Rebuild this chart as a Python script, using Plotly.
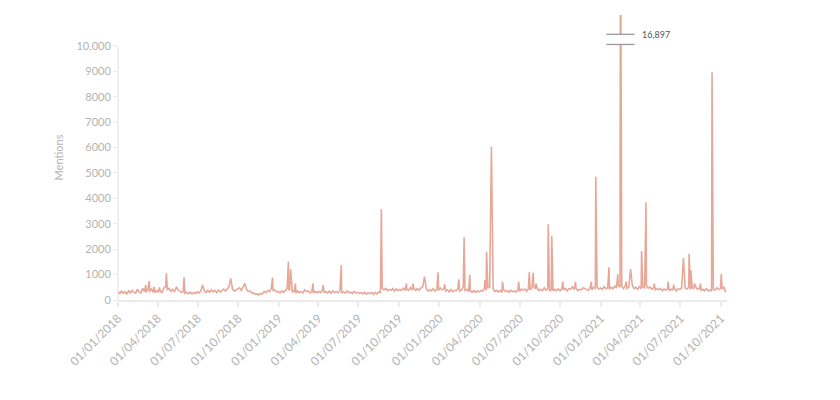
import pandas as pd
import plotly.graph_objects as go

# ---- data ----
START_DATE = "2018-01-01"
STEP_DAYS = 4
BASELINE = [
    # 2018 Q1
    330, 250, 350, 270, 320, 240, 360, 280, 380, 300, 270, 420, 310, 280, 460, 330, 300, 430, 320, 450, 300, 280, 380,
    # 2018 Q2
    300, 370, 280, 480, 520, 380, 460, 340, 420, 320, 480, 400, 340, 300, 330, 260, 300, 250, 310, 240, 300, 260, 320,
    # 2018 Q3
    270, 350, 300, 370, 290, 380, 300, 400, 320, 380, 290, 390, 310, 380, 430, 350, 460, 520, 400, 440, 350, 400, 460,
    # 2018 Q4
    480, 380, 520, 400, 420, 330, 360, 270, 280, 220, 240, 200, 260, 240, 330, 290, 380, 330, 450, 380, 400, 310, 340,
    # 2019 Q1
    280, 360, 300, 400, 450, 380, 420, 320, 340, 270, 360, 290, 330, 280, 400, 330, 360, 280, 320, 270, 340, 280, 340,
    # 2019 Q2
    290, 390, 310, 330, 280, 350, 270, 360, 300, 330, 280, 380, 290, 320, 270, 360, 290, 310, 260, 340, 270, 300, 260,
    # 2019 Q3
    290, 240, 300, 230, 290, 250, 300, 220, 300, 240, 320, 300, 460, 400, 460, 370, 420, 380, 450, 350, 440, 370, 420,
    # 2019 Q4
    380, 470, 370, 420, 380, 490, 390, 440, 380, 450, 380, 480, 520, 410, 450, 350, 400, 360, 450, 350, 400, 380, 470,
    # 2020 Q1
    400, 440, 350, 400, 320, 410, 330, 380, 360, 450, 350, 390, 500, 380, 420, 330, 360, 300, 370, 290, 360, 320, 370,
    # 2020 Q2
    350, 450, 370, 480, 500, 390, 420, 330, 380, 320, 370, 300, 390, 340, 370, 300, 390, 320, 360, 310, 400, 330, 430,
    # 2020 Q3
    390, 430, 340, 440, 390, 480, 520, 440, 460, 370, 420, 360, 480, 380, 450, 350, 400, 360, 420, 370, 440, 360, 440,
    # 2020 Q4
    400, 460, 360, 450, 430, 520, 410, 460, 370, 420, 390, 480, 450, 400, 380, 470, 400, 490, 460, 520, 430, 470, 420,
    # 2021 Q1
    530, 440, 480, 420, 500, 440, 540, 470, 580, 500, 540, 450, 550, 450, 500, 460, 570, 450, 500, 420, 530, 440, 510,
    # 2021 Q2
    480, 580, 470, 510, 420, 480, 400, 450, 400, 460, 360, 430, 390, 440, 360, 430, 400, 450, 360, 440, 420, 480, 390,
    # 2021 Q3
    470, 430, 500, 400, 480, 460, 520, 420, 450, 380, 420, 360, 450, 360, 400, 350, 430, 390, 480, 410, 450, 430, 500,
    # end
    300,
]

SPIKE_DATES = [
    "2018-03-05", "2018-03-13", "2018-03-24", "2018-04-05", "2018-04-21", "2018-05-14", "2018-05-31",
    "2018-07-12", "2018-09-14", "2018-10-16", "2018-12-18",
    "2019-01-23", "2019-01-26", "2019-01-28", "2019-02-08", "2019-03-20", "2019-04-12", "2019-05-23", "2019-08-22",
    "2019-10-18", "2019-11-02", "2019-11-28", "2019-12-29",
    "2020-01-13", "2020-02-14", "2020-02-26", "2020-03-10", "2020-04-13", "2020-04-17", "2020-04-28",
    "2020-05-23", "2020-06-29", "2020-07-23", "2020-08-01", "2020-08-07", "2020-09-04", "2020-09-12",
    "2020-10-07", "2020-11-05", "2020-12-11", "2020-12-21",
    "2021-01-20", "2021-02-09", "2021-02-15", "2021-02-28", "2021-03-10", "2021-04-04", "2021-04-14",
    "2021-05-03", "2021-06-03", "2021-06-16", "2021-07-08", "2021-07-21", "2021-07-25", "2021-08-02",
    "2021-08-16", "2021-09-11", "2021-10-02",
]
SPIKE_VALUES = [
    590, 750, 520, 500, 1050, 520, 890,
    590, 850, 650, 880,
    1510, 420, 1210, 650, 650, 590, 1380, 3570,
    650, 640, 920, 1090,
    620, 810, 2470, 980, 790, 1900, 6035,
    720, 720, 1115, 1075, 650, 2980, 2520,
    720, 720, 720, 4855,
    1290, 1010, 16897, 720, 1220, 1930, 3846,
    650, 720, 600, 1665, 1820, 1180, 650,
    650, 8965, 1020,
]

Y_TICKS = [0, 1000, 2000, 3000, 4000, 5000, 6000, 7000, 8000, 9000, 10000]
Y_TICK_TEXT = ["0", "1000", "2000", "3000", "4000", "5000", "6000", "7000", "8000", "9000", "10,000"]
Y_TITLE = "Mentions"
BREAK_LABEL = "16,897"

# ---- build series ----
base_dates = pd.date_range(START_DATE, periods=len(BASELINE), freq=f"{STEP_DAYS}D")
s_base = pd.Series(BASELINE, index=base_dates, dtype=float)
s_spk = pd.Series(SPIKE_VALUES, index=pd.to_datetime(SPIKE_DATES), dtype=float)
s_base = s_base[~s_base.index.isin(s_spk.index)]
series = pd.concat([s_base, s_spk]).sort_index()

peak_date = s_spk.idxmax()

LINE = "#e8a898"
GREY = "#b3b3b3"
AXIS = "#ebebeb"
FONT = "Lato"

fig = go.Figure()
fig.add_trace(go.Scatter(
    x=series.index, y=series.values, mode="lines",
    line=dict(color=LINE, width=1.6), hoverinfo="x+y", showlegend=False,
))

y_top = 11220
fig.update_layout(
    width=840, height=400,
    margin=dict(l=110, r=121, t=7, b=108),
    paper_bgcolor="white", plot_bgcolor="white",
    font=dict(family=FONT, color=GREY),
    xaxis=dict(
        range=[pd.Timestamp("2018-01-01"), pd.Timestamp("2021-10-15")],
        tick0="2018-01-01", dtick="M3", tickformat="%d/%m/%Y",
        tickangle=-45, tickfont=dict(size=12, color=GREY, family=FONT),
        showgrid=False, zeroline=False,
        showline=True, linecolor=AXIS, linewidth=1.5,
        ticks="outside", ticklen=5, tickcolor=AXIS, tickwidth=1.5,
    ),
    yaxis=dict(
        range=[0, y_top], tickvals=Y_TICKS, ticktext=Y_TICK_TEXT,
        tickfont=dict(size=11, color=GREY, family=FONT),
        showgrid=False, zeroline=False, showline=False,
        ticks="outside", ticklen=4, tickcolor=AXIS, tickwidth=1,
        title=dict(text=Y_TITLE, font=dict(size=11, color=GREY, family=FONT), standoff=10),
    ),
)

# y-axis line only up to top tick
fig.add_shape(type="line", xref="paper", yref="y", x0=0, x1=0, y0=0, y1=Y_TICKS[-1],
              line=dict(color=AXIS, width=1.5), layer="below")

# axis break marker on the clipped peak
half = pd.Timedelta(days=32)
b_lo, b_hi = 10060, 10460
fig.add_shape(type="rect", xref="x", yref="y",
              x0=peak_date - pd.Timedelta(days=4), x1=peak_date + pd.Timedelta(days=4),
              y0=b_lo, y1=b_hi, fillcolor="white", line=dict(width=0))
for yy in (b_lo, b_hi):
    fig.add_shape(type="line", xref="x", yref="y",
                  x0=peak_date - half, x1=peak_date + half, y0=yy, y1=yy,
                  line=dict(color="#9a9a9a", width=1.3))
fig.add_annotation(x=peak_date + pd.Timedelta(days=44), y=b_hi, xref="x", yref="y",
                   text=BREAK_LABEL, showarrow=False, xanchor="left", yanchor="middle",
                   font=dict(size=9, color="#555555", family=FONT))

fig.write_html("out.html")
